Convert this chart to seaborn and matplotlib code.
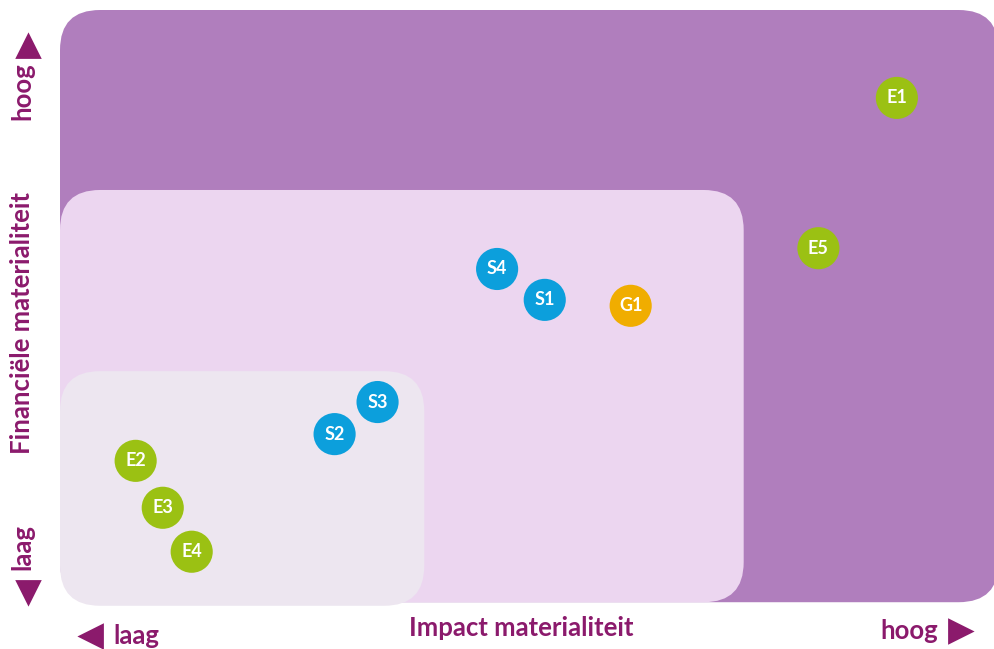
import matplotlib
matplotlib.use("Agg")
import matplotlib.pyplot as plt
import seaborn as sns
import pandas as pd
from matplotlib.patches import FancyBboxPatch
from matplotlib.lines import Line2D

# ---- data ----
labels = ["E1", "E5", "S4", "S1", "G1", "S3", "S2", "E2", "E3", "E4"]
impact = [8.96, 8.12, 4.68, 5.19, 6.11, 3.40, 2.94, 0.81, 1.10, 1.41]
financial = [8.52, 5.99, 5.64, 5.12, 5.02, 3.40, 2.86, 2.41, 1.62, 0.88]
groups = ["E", "E", "S", "S", "G", "S", "S", "E", "E", "E"]
group_colors = {"E": "#9BC113", "S": "#0C9FDC", "G": "#F0AD00"}

x_title = "Impact materialiteit"
y_title = "Financiële materialiteit"
low_label = "laag"
high_label = "hoog"

df = pd.DataFrame({"label": labels, "impact": impact,
                   "financial": financial, "group": groups})

sns.set_theme(style="white")
plt.rcParams['font.family'] = ['Lato', 'DejaVu Sans']

W, H = 994, 649
fig = plt.figure(figsize=(W / 100, H / 100), dpi=100)
# axes placed over the outer rectangle (pixels: x 60..994, y 10..604)
ax = fig.add_axes([60 / W, 1 - 604 / H, 934 / W, 594 / H])
ax.set_xlim(0, 10)
ax.set_ylim(0, 10)
ax.axis("off")

px_x = 934 / 10
px_y = 594 / 10
aspect = px_x / px_y  # mutation aspect for round corners


def zone(x0, y0, x1, y1, color, radius_px=40):
    r = radius_px / px_x
    p = FancyBboxPatch((x0, y0), x1 - x0, y1 - y0,
                       boxstyle=f"round,pad=0,rounding_size={r}",
                       mutation_aspect=aspect, facecolor=color,
                       edgecolor="none", clip_on=False, zorder=0)
    ax.add_patch(p)


zone(0, 0.03, 10.05, 10.0, "#B07EBD")
zone(0, 0.03, 7.32, 6.97, "#ECD6F0")
zone(0, -0.03, 3.90, 3.92, "#EDE6F0")

sns.scatterplot(data=df, x="impact", y="financial", hue="group",
                palette=group_colors, s=920, linewidth=0, legend=False,
                ax=ax, zorder=3, clip_on=False)
for lab, xv, yv in zip(labels, impact, financial):
    ax.text(xv, yv, lab, color="white", fontsize=13, fontweight="bold",
            ha="center", va="center", zorder=4)

ax.set_xlim(0, 10)
ax.set_ylim(0, 10)

dark = "#8B1A6C"


def ftext(x, y, s, **kw):
    fig.text(x / W, 1 - y / H, s, color=dark, fontweight="bold", **kw)


def tri(x, y, m):
    fig.add_artist(Line2D([x / W], [1 - y / H], marker=m, markersize=16,
                          color=dark, markeredgecolor=dark,
                          markeredgewidth=2, linestyle="none",
                          solid_joinstyle="round",
                          transform=fig.transFigure))


ftext(22, 323, y_title, rotation=90, ha="center", va="center", fontsize=18.5)
ftext(22, 91, high_label, rotation=90, ha="center", va="center", fontsize=18.5)
ftext(22, 547, low_label, rotation=90, ha="center", va="center", fontsize=18.5)
ftext(521, 628, x_title, ha="center", va="center", fontsize=18.5)
ftext(136, 636, low_label, ha="center", va="center", fontsize=18.5)
ftext(909, 631, high_label, ha="center", va="center", fontsize=18.5)

tri(28, 46, "^")
tri(28, 592, "v")
tri(91, 636, "<")
tri(960, 631, ">")

fig.savefig("out.png", dpi=100)
